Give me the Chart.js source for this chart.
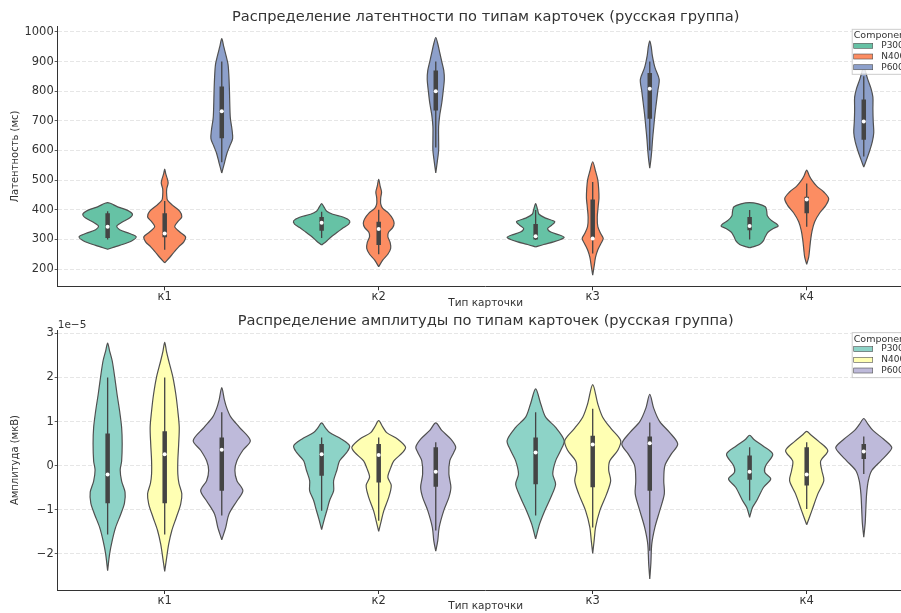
<!DOCTYPE html>
<html><head><meta charset="utf-8">
<script src="https://cdn.jsdelivr.net/npm/chart.js@4.4.1/dist/chart.umd.min.js"></script>
<style>
html,body{margin:0;padding:0;background:#fff;overflow:hidden;width:901px;height:613px;}
#wrap{position:relative;width:901px;height:613px;overflow:hidden;background:#fff;}
canvas{position:absolute;left:0;}
</style></head><body>
<div id="wrap">
<canvas id="topChart" width="930" height="310" style="top:0"></canvas>
<canvas id="botChart" width="930" height="303" style="top:310px"></canvas>
</div>
<script>
// ---------- data ----------
const categories = ['к1', 'к2', 'к3', 'к4'];
const components = ['P300', 'N400', 'P600'];
const latTicks = [200, 300, 400, 500, 600, 700, 800, 900, 1000];
const ampTicks = [-2, -1, 0, 1, 2, 3];

// violin profiles: [value, relative half-width] per card type (к1..к4)
const latP300Shape = [
  [[267,0],[280,0.42],[295,0.84],[309,1.0],[320,0.77],[333,0.42],[345,0.32],[358,0.5],[372,0.77],[385,0.87],[398,0.7],[410,0.35],[424,0]],
  [[281,0],[295,0.18],[310,0.35],[325,0.56],[340,0.77],[352,0.95],[363,0.98],[375,0.77],[385,0.39],[395,0.18],[408,0.09],[421,0]],
  [[275,0],[283,0.28],[292,0.63],[300,0.88],[307,1.0],[315,0.84],[325,0.53],[337,0.42],[348,0.56],[360,0.67],[372,0.35],[385,0.12],[400,0.07],[421,0]],
  [[272,0],[276,0.15],[283,0.35],[295,0.48],[310,0.55],[325,0.65],[338,0.85],[345,1.0],[352,0.95],[365,0.75],[380,0.62],[395,0.6],[410,0.55],[420,0.3],[424,0]]
];
const latN400Shape = [
  [[221,0],[240,0.18],[260,0.35],[275,0.49],[292,0.67],[309,0.73],[325,0.53],[343,0.35],[360,0.46],[376,0.6],[395,0.53],[415,0.28],[432,0.1],[450,0.07],[470,0.07],[490,0.12],[505,0.09],[520,0.04],[537,0]],
  [[208,0],[230,0.14],[250,0.32],[270,0.42],[290,0.4],[310,0.32],[325,0.35],[340,0.49],[355,0.54],[370,0.49],[388,0.35],[405,0.14],[420,0.07],[440,0.07],[460,0.1],[480,0.05],[503,0]],
  [[180,0],[210,0.05],[240,0.1],[265,0.18],[285,0.28],[303,0.37],[320,0.28],[343,0.18],[375,0.16],[410,0.19],[440,0.22],[470,0.21],[500,0.18],[530,0.1],[562,0]],
  [[216,0],[240,0.07],[265,0.1],[300,0.14],[330,0.19],[360,0.28],[390,0.46],[415,0.67],[438,0.77],[460,0.6],[480,0.35],[500,0.18],[515,0.09],[534,0]]
];
const latP600Shape = [
  [[524,0],[560,0.1],[590,0.18],[615,0.28],[640,0.38],[670,0.36],[710,0.3],[760,0.28],[800,0.27],[850,0.25],[890,0.22],[920,0.15],[950,0.07],[977,0]],
  [[524,0],[560,0.05],[600,0.1],[640,0.1],[680,0.1],[720,0.14],[760,0.21],[800,0.26],[840,0.3],[870,0.28],[900,0.21],[930,0.14],[960,0.07],[981,0]],
  [[540,0],[570,0.04],[600,0.07],[640,0.1],[680,0.14],[720,0.18],[760,0.23],[800,0.28],[840,0.33],[880,0.18],[920,0.09],[950,0.05],[970,0]],
  [[544,0],[570,0.1],[600,0.21],[630,0.3],[660,0.35],[700,0.33],[740,0.32],[780,0.32],[810,0.25],[840,0.14],[870,0.05],[885,0]]
];
// inner box: [whisker low, q1, median, q3, whisker high]
const latP300Box = [[300,305,343,388,395],[305,329,356,376,393],[298,300,311,352,399],[300,331,345,376,399]];
const latN400Box = [[265,307,320,388,430],[250,281,335,360,400],[253,303,303,435,494],[343,388,435,444,489]];
const latP600Box = [[560,641,732,816,900],[610,735,800,870,900],[600,707,808,861,900],[580,636,698,772,850]];

// amplitude in units of 1e-5 µV
const ampP300Shape = [
  [[-2.38,0],[-2.0,0.07],[-1.7,0.16],[-1.4,0.28],[-1.1,0.46],[-0.85,0.59],[-0.6,0.61],[-0.35,0.49],[-0.1,0.44],[0.1,0.49],[0.5,0.51],[0.87,0.49],[1.24,0.42],[1.62,0.33],[2.0,0.25],[2.38,0.16],[2.6,0.07],[2.78,0]],
  [[-1.45,0],[-1.2,0.1],[-1.0,0.19],[-0.79,0.28],[-0.57,0.42],[-0.34,0.42],[-0.11,0.53],[0.11,0.63],[0.3,0.88],[0.45,0.98],[0.6,0.7],[0.75,0.28],[0.85,0.14],[0.97,0]],
  [[-1.66,0],[-1.32,0.14],[-1.02,0.32],[-0.72,0.53],[-0.42,0.7],[-0.19,0.6],[0.11,0.7],[0.35,0.88],[0.57,1.0],[0.87,0.7],[1.1,0.35],[1.4,0.18],[1.74,0]],
  [[-1.17,0],[-0.95,0.1],[-0.79,0.25],[-0.49,0.49],[-0.3,0.74],[-0.15,0.53],[0.0,0.56],[0.26,0.81],[0.45,0.46],[0.6,0.14],[0.69,0]]
];
const ampN400Shape = [
  [[-2.4,0],[-2.08,0.07],[-1.78,0.14],[-1.47,0.25],[-1.17,0.41],[-0.87,0.56],[-0.64,0.6],[-0.4,0.5],[-0.19,0.46],[0.11,0.46],[0.49,0.49],[0.87,0.51],[1.24,0.46],[1.62,0.39],[2.0,0.29],[2.38,0.14],[2.6,0.06],[2.8,0]],
  [[-1.49,0],[-1.25,0.09],[-1.02,0.18],[-0.72,0.35],[-0.45,0.44],[-0.26,0.32],[-0.05,0.42],[0.11,0.53],[0.3,0.84],[0.42,0.94],[0.6,0.67],[0.75,0.28],[0.88,0.14],[1.02,0]],
  [[-1.99,0],[-1.7,0.05],[-1.4,0.1],[-1.02,0.25],[-0.64,0.49],[-0.34,0.63],[-0.1,0.56],[0.11,0.6],[0.35,0.88],[0.57,0.98],[0.85,0.63],[1.1,0.35],[1.4,0.18],[1.84,0]],
  [[-1.34,0],[-1.02,0.18],[-0.64,0.39],[-0.34,0.6],[-0.11,0.53],[0.11,0.49],[0.34,0.74],[0.55,0.42],[0.7,0.14],[0.78,0]]
];
const ampP600Shape = [
  [[-1.68,0],[-1.4,0.14],[-1.1,0.25],[-0.8,0.53],[-0.57,0.74],[-0.34,0.53],[-0.11,0.46],[0.11,0.53],[0.35,0.74],[0.57,1.0],[0.87,0.62],[1.1,0.32],[1.3,0.18],[1.5,0.09],[1.77,0]],
  [[-1.94,0],[-1.7,0.07],[-1.4,0.12],[-1.02,0.28],[-0.72,0.46],[-0.49,0.53],[-0.19,0.46],[0.11,0.49],[0.3,0.63],[0.42,0.7],[0.6,0.53],[0.8,0.21],[0.97,0]],
  [[-2.57,0],[-2.2,0.04],[-1.78,0.07],[-1.4,0.18],[-1.02,0.35],[-0.64,0.51],[-0.34,0.49],[0.0,0.53],[0.25,0.74],[0.49,0.98],[0.75,0.7],[1.0,0.35],[1.3,0.14],[1.62,0]],
  [[-1.62,0],[-1.3,0.05],[-1.02,0.07],[-0.64,0.1],[-0.34,0.16],[-0.11,0.28],[0.11,0.6],[0.3,0.88],[0.42,0.98],[0.6,0.7],[0.8,0.32],[0.95,0.14],[1.07,0]]
];
const ampP300Box = [[-1.56,-0.85,-0.2,0.73,2.0],[-1.02,-0.23,0.26,0.49,0.64],[-1.13,-0.42,0.3,0.64,1.21],[-0.79,-0.32,-0.14,0.23,0.42]];
const ampN400Box = [[-1.56,-0.85,0.26,0.78,2.0],[-1.25,-0.38,0.24,0.49,0.64],[-1.4,-0.49,0.48,0.68,1.29],[-0.98,-0.45,-0.2,0.42,0.53]];
const ampP600Box = [[-1.13,-0.57,0.36,0.64,1.21],[-1.47,-0.48,-0.14,0.42,0.53],[-1.93,-0.57,0.51,0.66,0.98],[-0.19,0.15,0.32,0.49,0.66]];

const set2Colors = ['#66c2a5', '#fc8d62', '#8da0cb'];
const set3Colors = ['#8dd3c7', '#ffffb3', '#bebada'];

// ---------- rendering ----------
Chart.defaults.font.family = "'DejaVu Sans', sans-serif";
Chart.defaults.color = '#333';
const groupWidth = 0.8;
const edgeColor = '#505050';
const boxColor = '#444444';

function buildDatasets(shapes, boxes, colors) {
  const ds = [];
  components.forEach((comp, j) => {
    categories.forEach((cat, i) => {
      const cx = i + (j - 1) * groupWidth / 3;
      const hw = groupWidth / 6;
      const prof = shapes[j][i];
      const right = prof.map(([v, w]) => ({x: cx + w * hw, y: v}));
      const left = prof.slice(0, -1).reverse().map(([v, w]) => ({x: cx - w * hw, y: v}));
      ds.push({
        label: comp, data: right.concat(left), showLine: true, fill: 'shape',
        backgroundColor: colors[j], borderColor: edgeColor, borderWidth: 1.2,
        pointRadius: 0, tension: 0.3, order: 3
      });
      const b = boxes[j][i];
      ds.push({data: [{x: cx, y: b[0]}, {x: cx, y: b[4]}], showLine: true,
        borderColor: boxColor, borderWidth: 1.3, pointRadius: 0, order: 2});
      ds.push({data: [{x: cx, y: b[1]}, {x: cx, y: b[3]}], showLine: true,
        borderColor: boxColor, borderWidth: 4.5, borderCapStyle: 'butt', pointRadius: 0, order: 1});
      ds.push({data: [{x: cx, y: b[2]}], showLine: false, pointRadius: 2,
        pointBackgroundColor: '#ffffff', pointBorderWidth: 0, order: 0});
    });
  });
  return ds;
}

const legendPlugin = {
  id: 'violinLegend',
  afterDraw(chart, args, opts) {
    const ctx = chart.ctx, a = chart.chartArea;
    ctx.save();
    if (opts.offsetText) {
      ctx.font = "10.5px 'DejaVu Sans'";
      ctx.fillStyle = '#333';
      ctx.textAlign = 'left';
      ctx.textBaseline = 'middle';
      ctx.fillText(opts.offsetText, a.left, a.top - 5);
    }
    const bx = a.right - 62, by = a.top + 2, bw = 66, bh = 45;
    ctx.fillStyle = 'rgba(255,255,255,0.85)';
    ctx.fillRect(bx, by, bw, bh);
    ctx.strokeStyle = '#cccccc';
    ctx.lineWidth = 1;
    ctx.strokeRect(bx + 0.5, by + 0.5, bw, bh);
    ctx.fillStyle = '#333';
    ctx.textBaseline = 'middle';
    ctx.textAlign = 'left';
    ctx.font = "9.5px 'DejaVu Sans'";
    ctx.fillText('Component', bx + 2, by + 7);
    components.forEach((c, k) => {
      const y = by + 17 + k * 10.7;
      ctx.fillStyle = opts.colors[k];
      ctx.fillRect(bx + 2, y - 2.5, 19, 5);
      ctx.strokeStyle = edgeColor;
      ctx.lineWidth = 0.6;
      ctx.strokeRect(bx + 2, y - 2.5, 19, 5);
      ctx.fillStyle = '#333';
      ctx.font = "9px 'DejaVu Sans'";
      ctx.fillText(c, bx + 29.5, y);
    });
    ctx.restore();
  }
};

function minusFmt(v) { return v < 0 ? '\u2212' + Math.abs(v) : String(v); }

function makeChart(id, cfg) {
  return new Chart(document.getElementById(id), {
    type: 'scatter',
    data: {datasets: buildDatasets(cfg.shapes, cfg.boxes, cfg.colors)},
    plugins: [legendPlugin],
    options: {
      responsive: false, animation: false, devicePixelRatio: 1,
      layout: {padding: {left: 0, right: 16.3, top: 0, bottom: 0}},
      plugins: {
        legend: {display: false}, tooltip: {enabled: false},
        title: {display: true, text: cfg.title, color: '#333', fullSize: false,
          font: {size: 14.6, weight: 'normal'}, padding: cfg.titlePad},
        violinLegend: {colors: cfg.colors, offsetText: cfg.offsetText}
      },
      scales: {
        x: {
          type: 'linear', min: -0.5, max: 3.5,
          afterBuildTicks: s => { s.ticks = categories.map((c, i) => ({value: i})); },
          afterFit: s => { s.height = cfg.xHeight; },
          ticks: {callback: v => categories[v], font: {size: 11.5}, color: '#333', padding: 0, autoSkip: false, maxRotation: 0},
          grid: {display: true, drawOnChartArea: false, tickLength: 4, tickColor: '#333'},
          border: {display: true, color: '#333', width: 1},
          title: {display: true, text: 'Тип карточки', font: {size: 10.5}, color: '#333', padding: {top: 0, bottom: 0.5}}
        },
        y: {
          type: 'linear', min: cfg.yMin, max: cfg.yMax,
          afterBuildTicks: s => { s.ticks = cfg.yTicks.map(v => ({value: v})); },
          afterFit: s => { s.width = 57.7; },
          ticks: {callback: minusFmt, font: {size: 11.5}, color: '#333', padding: 1},
          grid: {color: '#e0e0e0', lineWidth: 0.8, tickLength: 3, tickColor: '#333', tickBorderDash: []},
          border: {display: true, color: '#333', width: 1, dash: [4, 2]},
          title: {display: true, text: cfg.yTitle, font: {size: 10}, color: '#333', padding: {top: 9, bottom: 0}}
        }
      }
    }
  });
}

makeChart('topChart', {
  shapes: [latP300Shape, latN400Shape, latP600Shape],
  boxes: [latP300Box, latN400Box, latP600Box],
  colors: set2Colors,
  title: 'Распределение латентности по типам карточек (русская группа)',
  titlePad: {top: 8.5, bottom: 0.8},
  xHeight: 23.7, yMin: 142, yMax: 1017, yTicks: latTicks,
  yTitle: 'Латентность (мс)', offsetText: null
});
makeChart('botChart', {
  shapes: [ampP300Shape, ampN400Shape, ampP600Shape],
  boxes: [ampP300Box, ampN400Box, ampP600Box],
  colors: set3Colors,
  title: 'Распределение амплитуды по типам карточек (русская группа)',
  titlePad: {top: 2.6, bottom: 0},
  xHeight: 23, yMin: -2.82, yMax: 3.075, yTicks: ampTicks,
  yTitle: 'Амплитуда (мкВ)', offsetText: '1e\u22125'
});
</script>
</body></html>
